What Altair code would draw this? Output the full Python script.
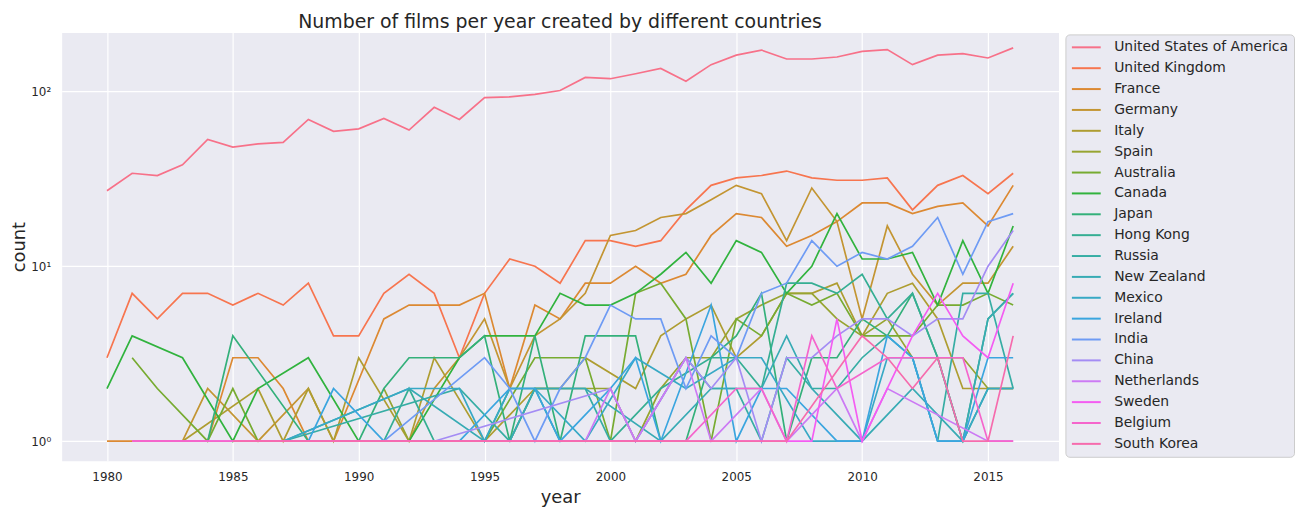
import math
import altair as alt
import pandas as pd

# --- data (years with no films are simply absent) ---
countries = ["United States of America", "United Kingdom", "France", "Germany", "Italy",
             "Spain", "Australia", "Canada", "Japan", "Hong Kong", "Russia", "New Zealand",
             "Mexico", "Ireland", "India", "China", "Netherlands", "Sweden", "Belgium",
             "South Korea"]

usa_years = list(range(1980, 2017))
usa_counts = [27, 34, 33, 38, 53, 48, 50, 51, 69, 59, 61, 70, 60, 81, 69, 92, 93, 96, 101,
              120, 118, 126, 135, 114, 142, 161, 172, 153, 153, 157, 169, 173, 142, 161, 164,
              155, 177]

uk_years = list(range(1980, 2017))
uk_counts = [3, 7, 5, 7, 7, 6, 7, 6, 8, 4, 4, 7, 9, 7, 3, 7, 11, 10, 8, 14, 14, 13, 14, 21,
             29, 32, 33, 35, 32, 31, 31, 32, 21, 29, 33, 26, 34]

fra_years = [1980, 1981, 1984, 1985, 1986, 1987, 1988, 1989, 1991, 1992, 1993, 1994, 1995,
             1996, 1997, 1998, 1999, 2000, 2001, 2002, 2003, 2004, 2005, 2006, 2007, 2008,
             2009, 2010, 2011, 2012, 2013, 2014, 2015, 2016]
fra_counts = [1, 1, 1, 3, 3, 2, 1, 1, 5, 6, 6, 6, 7, 2, 6, 5, 8, 8, 10, 8, 9, 15, 20, 19, 13,
              15, 18, 23, 23, 20, 22, 23, 17, 29]

ger_years = [1983, 1984, 1986, 1988, 1989, 1992, 1993, 1994, 1995, 1996, 1997, 1998, 1999,
             2000, 2001, 2002, 2003, 2004, 2005, 2006, 2007, 2008, 2009, 2010, 2011, 2012,
             2013, 2014, 2015, 2016]
ger_counts = [1, 2, 1, 2, 1, 1, 2, 3, 5, 2, 4, 5, 7, 15, 16, 19, 20, 24, 29, 26, 14, 28, 18,
              5, 17, 9, 6, 8, 8, 13]

ita_years = [1983, 1986, 1987, 1988, 1989, 1990, 1992, 1993, 1995, 1997, 1998, 1999, 2001,
             2002, 2003, 2004, 2005, 2006, 2007, 2008, 2009, 2010, 2011, 2012, 2013, 2014,
             2015, 2016]
ita_counts = [1, 2, 1, 2, 1, 3, 1, 3, 1, 2, 2, 3, 2, 4, 5, 6, 3, 4, 7, 7, 8, 4, 7, 8, 5, 2,
              2, 2]

esp_years = [1991, 1992, 1994, 1996, 1997, 1998, 2000, 2001, 2002, 2003, 2004, 2005, 2006,
             2007, 2008, 2009, 2010, 2011, 2012, 2013, 2014, 2015, 2016]
esp_counts = [2, 1, 1, 1, 2, 2, 2, 1, 2, 3, 3, 5, 6, 7, 7, 5, 4, 5, 3, 3, 3, 2, 2]

aus_years = [1981, 1982, 1984, 1985, 1986, 1989, 1992, 1995, 1997, 1998, 1999, 2000, 2001,
             2002, 2003, 2004, 2005, 2006, 2007, 2008, 2009, 2010, 2011, 2012, 2013, 2014,
             2015, 2016]
aus_counts = [3, 2, 1, 2, 1, 1, 1, 1, 3, 3, 3, 1, 7, 8, 5, 1, 5, 4, 7, 6, 7, 4, 4, 4, 6, 6,
              7, 6]

can_years = [1980, 1981, 1983, 1985, 1986, 1988, 1990, 1992, 1994, 1995, 1996, 1997, 1998,
             1999, 2000, 2001, 2002, 2003, 2004, 2005, 2006, 2007, 2008, 2009, 2010, 2011,
             2012, 2013, 2014, 2015, 2016]
can_counts = [2, 4, 3, 1, 2, 3, 1, 1, 3, 4, 4, 4, 7, 6, 6, 7, 9, 12, 8, 14, 12, 7, 10, 20,
              11, 11, 12, 6, 14, 7, 17]

jpn_years = [1984, 1985, 1988, 1990, 1991, 1992, 1993, 1994, 1995, 1996, 1997, 1998, 1999,
             2000, 2001, 2002, 2003, 2004, 2005, 2006, 2007, 2008, 2009, 2010, 2011, 2012,
             2013, 2014, 2015, 2016]
jpn_counts = [1, 4, 1, 1, 2, 3, 3, 3, 4, 1, 4, 1, 4, 4, 4, 1, 1, 3, 4, 7, 1, 3, 3, 5, 4, 7,
              3, 1, 5, 7]

hkg_years = [1988, 1991, 1992, 1993, 1995, 1996, 1997, 1998, 2000, 2002, 2004, 2005, 2006,
             2007, 2008, 2009, 2010, 2011, 2012, 2013, 2014, 2015, 2016]
hkg_counts = [1, 1, 2, 1, 1, 2, 2, 1, 1, 2, 3, 3, 2, 8, 8, 7, 9, 5, 7, 3, 1, 2, 2]

rus_years = [1987, 1994, 1996, 1997, 1998, 1999, 2000, 2001, 2003, 2004, 2005, 2006, 2007,
             2008, 2009, 2010, 2011, 2012, 2013, 2014, 2015, 2016]
rus_counts = [1, 2, 1, 2, 2, 2, 1, 1, 3, 2, 2, 1, 3, 2, 2, 3, 4, 3, 1, 7, 7, 2]

nzl_years = [1987, 1992, 1995, 1996, 1997, 1999, 2002, 2004, 2006, 2007, 2008, 2010, 2012,
             2014, 2015, 2016]
nzl_counts = [1, 2, 1, 1, 2, 2, 1, 2, 2, 4, 2, 1, 2, 1, 5, 7]

mex_years = [1987, 1992, 1994, 1995, 1996, 1997, 1999, 2001, 2003, 2005, 2006, 2008, 2010,
             2011, 2012, 2013, 2014, 2015, 2016]
mex_counts = [1, 2, 2, 1, 2, 2, 1, 3, 2, 3, 3, 1, 1, 3, 3, 1, 1, 2, 2]

irl_years = [1988, 1989, 1991, 1994, 1996, 1997, 1998, 2000, 2001, 2002, 2004, 2005, 2006,
             2007, 2009, 2010, 2011, 2012, 2013, 2014, 2015, 2016]
irl_counts = [1, 2, 1, 1, 2, 2, 1, 2, 3, 1, 6, 1, 2, 2, 1, 1, 4, 3, 1, 1, 3, 3]

ind_years = [1991, 1995, 1996, 1997, 1998, 1999, 2000, 2001, 2002, 2003, 2004, 2005, 2006,
             2007, 2008, 2009, 2010, 2011, 2012, 2013, 2014, 2015, 2016]
ind_counts = [1, 3, 2, 1, 2, 3, 6, 5, 5, 2, 4, 3, 7, 8, 14, 10, 12, 11, 13, 19, 9, 18, 20]

chn_years = [1993, 2000, 2001, 2003, 2004, 2005, 2006, 2007, 2008, 2009, 2010, 2011, 2012,
             2013, 2014, 2015, 2016]
chn_counts = [1, 2, 1, 3, 2, 3, 1, 3, 3, 4, 5, 5, 4, 5, 5, 10, 16]

nld_years = [1999, 2000, 2001, 2003, 2004, 2006, 2007, 2009, 2010, 2011, 2015, 2016]
nld_counts = [1, 2, 1, 3, 1, 2, 1, 2, 1, 2, 1, 1]

swe_years = [1981, 1999, 2004, 2008, 2009, 2010, 2012, 2013, 2014, 2015, 2016]
swe_counts = [1, 1, 1, 1, 5, 1, 4, 7, 4, 3, 8]

bel_years = [1981, 2001, 2003, 2005, 2006, 2007, 2008, 2009, 2011, 2012, 2013, 2014, 2015,
             2016]
bel_counts = [1, 1, 1, 2, 2, 1, 4, 2, 3, 3, 3, 3, 1, 1]

kor_years = [1985, 2003, 2007, 2010, 2011, 2012, 2013, 2014, 2015, 2016]
kor_counts = [1, 1, 1, 4, 3, 2, 3, 1, 1, 4]

series = [
    (usa_years, usa_counts), (uk_years, uk_counts), (fra_years, fra_counts),
    (ger_years, ger_counts), (ita_years, ita_counts), (esp_years, esp_counts),
    (aus_years, aus_counts), (can_years, can_counts), (jpn_years, jpn_counts),
    (hkg_years, hkg_counts), (rus_years, rus_counts), (nzl_years, nzl_counts),
    (mex_years, mex_counts), (irl_years, irl_counts), (ind_years, ind_counts),
    (chn_years, chn_counts), (nld_years, nld_counts), (swe_years, swe_counts),
    (bel_years, bel_counts), (kor_years, kor_counts),
]

rows = []
for name, (yrs, cnts) in zip(countries, series):
    for y, c in zip(yrs, cnts):
        rows.append({"country": name, "year": y, "count": c})
df = pd.DataFrame(rows)


# --- seaborn's "husl" palette, so the 20 line colours match ---
M = [[3.2406, -1.5372, -0.4986], [-0.9689, 1.8758, 0.0415], [0.0557, -0.2040, 1.0570]]
REF_U, REF_V, KAPPA, EPS = 0.19784, 0.46834, 903.3, 0.008856


def max_chroma(L, H):
    hr = math.radians(H)
    sin_h, cos_h = math.sin(hr), math.cos(hr)
    sub1 = (L + 16) ** 3 / 1560896.0
    sub2 = sub1 if sub1 > EPS else L / KAPPA
    best = float("inf")
    for m1, m2, m3 in M:
        top = (0.99915 * m1 + 1.05122 * m2 + 1.14460 * m3) * sub2
        rbottom = 0.86330 * m3 - 0.17266 * m2
        lbottom = 0.12949 * m3 - 0.38848 * m1
        bottom = (rbottom * sin_h + lbottom * cos_h) * sub2
        for t in (0.0, 1.0):
            c = L * (top - 1.05122 * t) / (bottom + 0.17266 * sin_h * t)
            if 0 < c < best:
                best = c
    return best


def husl_hex(H, S, L):
    C = max_chroma(L, H) / 100 * S
    U = math.cos(math.radians(H)) * C
    V = math.sin(math.radians(H)) * C
    Y = ((L + 16) / 116) ** 3 if L > 8 else L / KAPPA
    var_u = U / (13 * L) + REF_U
    var_v = V / (13 * L) + REF_V
    X = -(9 * Y * var_u) / ((var_u - 4) * var_v - var_u * var_v)
    Z = (9 * Y - 15 * var_v * Y - var_v * X) / (3 * var_v)
    rgb = []
    for m1, m2, m3 in M:
        c = m1 * X + m2 * Y + m3 * Z
        c = 12.92 * c if c <= 0.0031308 else 1.055 * c ** (1 / 2.4) - 0.055
        rgb.append(min(max(c, 0.0), 1.0))
    return "#" + "".join(f"{round(v * 255):02x}" for v in rgb)


def husl_palette(n, h=0.01, s=0.9, l=0.65):
    return [husl_hex(((i / n + h) % 1) * 359, s * 99, l * 99) for i in range(n)]


palette = husl_palette(len(countries))

sup = "datum.value == 1 ? '10⁰' : datum.value == 10 ? '10¹' : '10²'"

chart = alt.Chart(df).mark_line(strokeWidth=1.7, clip=True).encode(
    x=alt.X("year:Q",
            scale=alt.Scale(domain=[1978.2, 2017.8], nice=False, zero=False),
            axis=alt.Axis(values=list(range(1980, 2016, 5)), format="d", title="year",
                          labelPadding=11, titlePadding=6)),
    y=alt.Y("count:Q",
            scale=alt.Scale(type="log", domain=[0.773, 217], nice=False),
            axis=alt.Axis(values=[1, 10, 100], labelExpr=sup, title="count",
                          labelPadding=11, titlePadding=2)),
    color=alt.Color("country:N", sort=countries,
                    scale=alt.Scale(domain=countries, range=palette),
                    legend=alt.Legend(title=None, orient="none", legendX=1010, legendY=2,
                                      symbolType="M-2.9,0H2.9", symbolSize=100,
                                      symbolStrokeWidth=2, symbolOffset=8,
                                      labelFontSize=14, labelOffset=21, rowPadding=7,
                                      padding=6, fillColor="#eaeaf2", strokeColor="#cccccc",
                                      cornerRadius=4, labelColor="#262626",
                                      labelFont="DejaVu Sans", labelLimit=400)),
).properties(
    width=1003,
    height=431,
    autosize="none",
    padding={"left": 54, "top": 23, "right": 240, "bottom": 52},
    title=alt.TitleParams("Number of films per year created by different countries",
                          fontSize=19, font="DejaVu Sans", fontWeight="normal",
                          color="#262626", anchor="middle", offset=0),
).configure_view(
    fill="#eaeaf2", strokeOpacity=0
).configure_axis(
    grid=True, gridColor="white", gridWidth=1.2, domain=False, ticks=False,
    labelFont="DejaVu Sans", labelFontSize=12, labelColor="#262626",
    titleFont="DejaVu Sans", titleFontSize=18, titleFontWeight="normal",
    titleColor="#262626"
)

chart.save("out.html", embed_options={"renderer": "svg", "actions": False})
